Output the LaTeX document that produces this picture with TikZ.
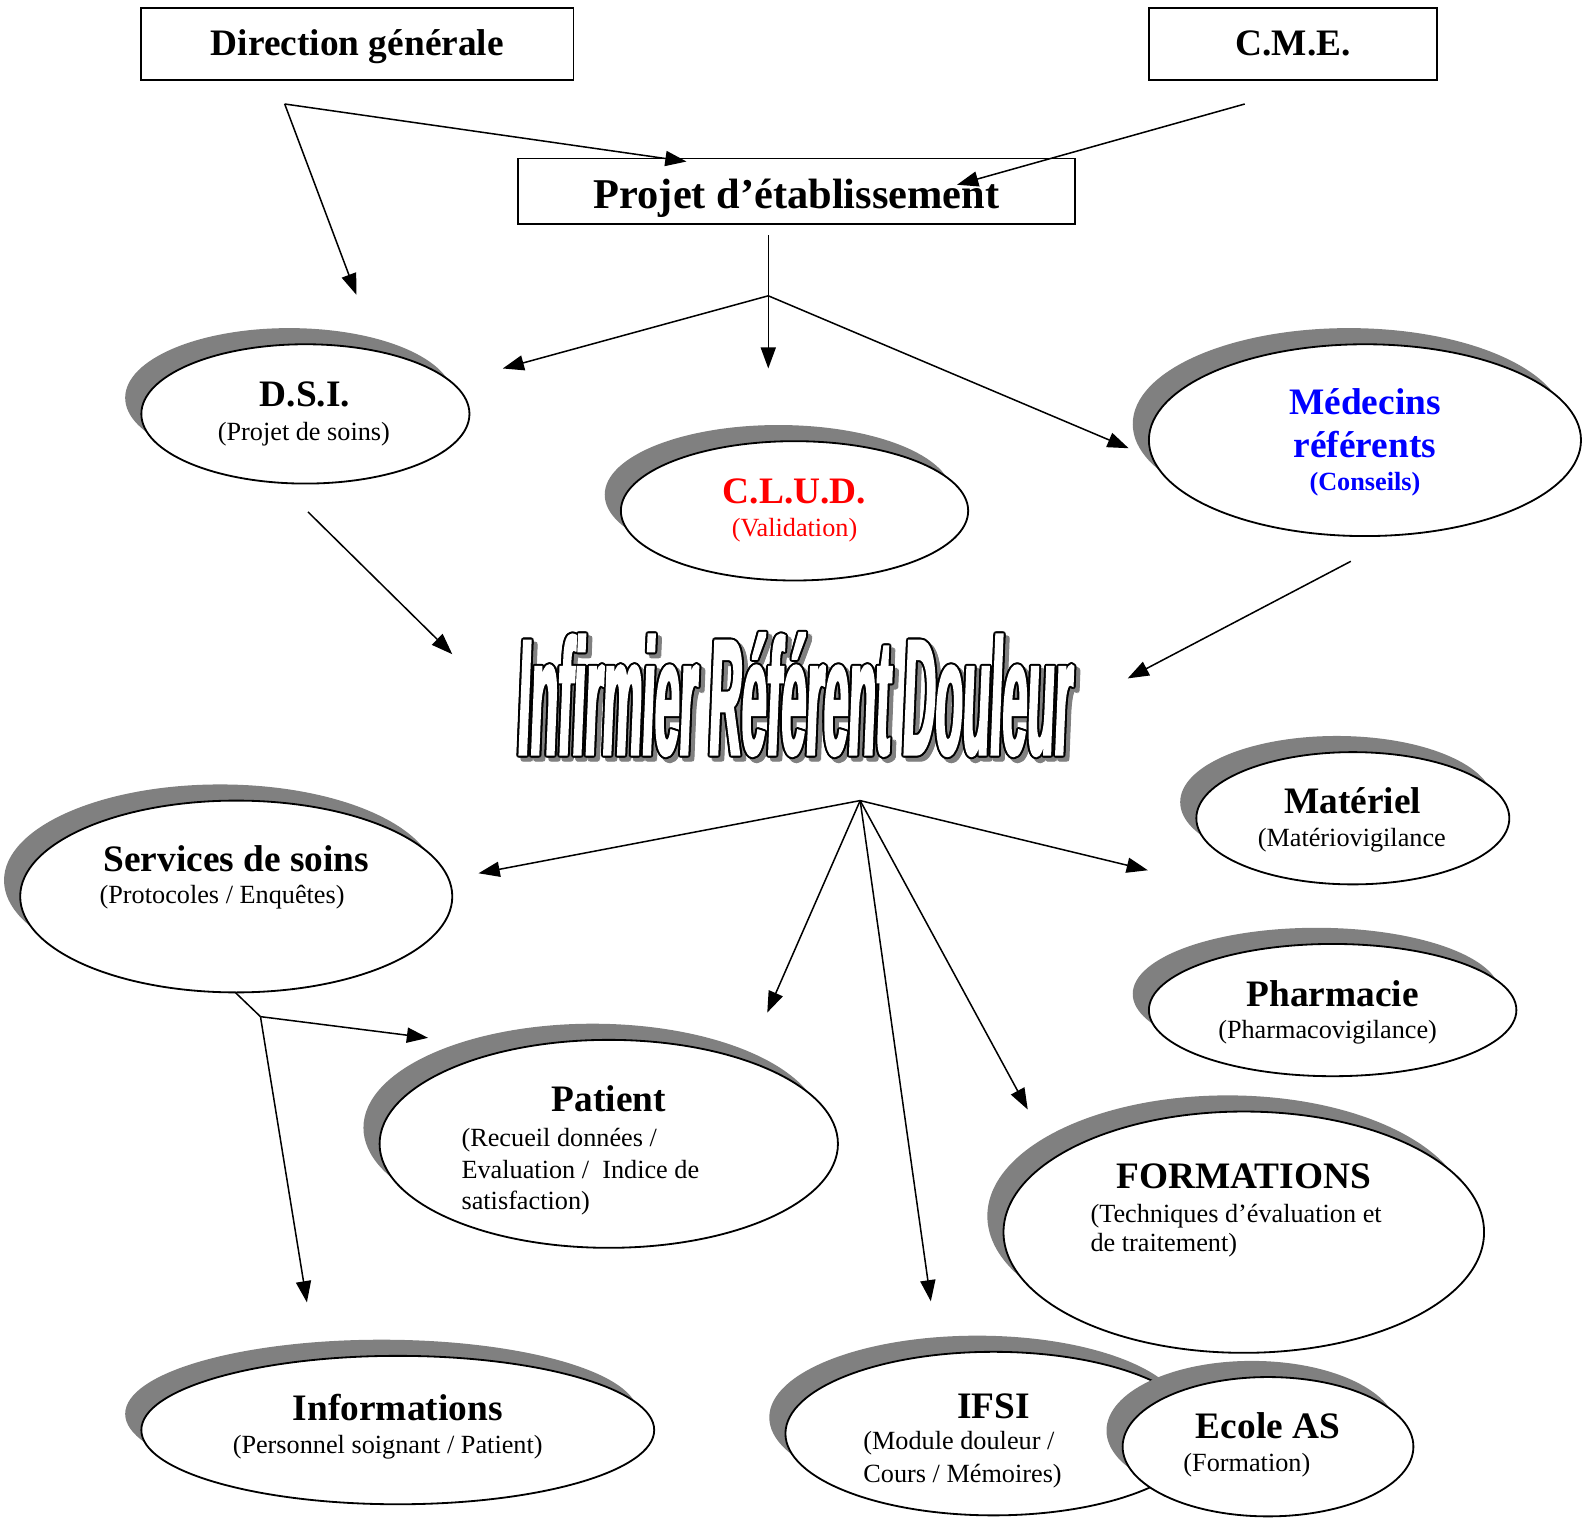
\documentclass[tikz,border=0pt]{standalone}
\usepackage{fontspec}
\setmainfont{Liberation Serif}
\newfontfamily\irdfont{Liberation Sans}[FakeStretch=0.27, FakeSlant=0.04, BoldFeatures={FakeBold=1.3}]
\usetikzlibrary{shapes.geometric,arrows.meta,calc}
\definecolor{shadowgray}{HTML}{808080}
\definecolor{cludred}{HTML}{FF0000}
\definecolor{medblue}{HTML}{0000FF}
\tikzset{
  shd/.style={ellipse, fill=shadowgray, draw=none, inner sep=0pt},
  ell/.style={ellipse, fill=white, draw=black, line width=1.8pt, inner sep=0pt},
  ttl/.style={font=\fontsize{37}{42}\selectfont\bfseries, anchor=base, inner sep=0pt},
  subt/.style={font=\fontsize{26}{31}\selectfont, anchor=base, inner sep=0pt},
  subtl/.style={subt, anchor=base west},
  boxn/.style={draw=black, line width=1.8pt, fill=white, inner sep=0pt},
  arr/.style={line width=1.5pt, -{Triangle[length=21pt,width=15pt]}},
  plainln/.style={line width=1.5pt},
  irdn/.style={inner sep=0pt, font=\irdfont\bfseries\fontsize{164}{170}\selectfont},
}
\newcommand\shadowellipse[5]{%
  \node[shd, minimum width=#4pt, minimum height=#5pt] (#1-sh) at ({#2-16},{#3-16}) {};
  \node[ell, minimum width=#4pt, minimum height=#5pt] (#1) at (#2,#3) {};}
\newcommand\irdtext{Infirmier Référent Douleur}
\begin{document}
\begin{tikzpicture}[x=1pt,y=-1pt]
\fill[white] (0,0) rectangle (1568,1503);
\useasboundingbox (0,0) rectangle (1568,1503);

% boxes
\node[boxn, minimum width=428pt, minimum height=71pt] (dg) at (354,43.5) {};
\node[ttl] (dg-t) at (354,55) {Direction générale};
\node[boxn, minimum width=285pt, minimum height=71pt] (cme) at (1280.5,43.5) {};
\node[ttl] (cme-t) at (1281,55) {C.M.E.};
\node[boxn, minimum width=552pt, minimum height=65pt] (pe) at (789,189.5) {};
\node[ttl, font=\fontsize{42}{48}\selectfont\bfseries] (pe-t) at (789,207) {Projet d’établissement};

% ellipses
\shadowellipse{dsi}{302.5}{410}{325}{138}
\node[ttl] (dsi-t) at (302,403) {D.S.I.};
\node[subt] (dsi-s) at (301,436) {(Projet de soins)};

\shadowellipse{clud}{787}{506}{344}{138}
\node[ttl, text=cludred] (clud-t) at (787,499) {C.L.U.D.};
\node[subt, text=cludred] (clud-s) at (787,531) {(Validation)};

\shadowellipse{med}{1352}{436}{428}{190}
\node[ttl, text=medblue] (med-t1) at (1352,411) {Médecins};
\node[ttl, text=medblue] (med-t2) at (1352,453) {référents};
\node[subt, text=medblue, font=\fontsize{26}{31}\selectfont\bfseries] (med-s) at (1352,486) {(Conseils)};

\shadowellipse{mat}{1340}{810.5}{310}{131}
\node[ttl] (mat-t) at (1340,806) {Matériel};
\node[subt] (mat-s) at (1339,838) {(Matériovigilance};

\shadowellipse{pha}{1320}{1000.5}{364}{131}
\node[ttl] (pha-t) at (1320,997) {Pharmacie};
\node[subt] (pha-s) at (1315,1029) {(Pharmacovigilance)};

\shadowellipse{ss}{234}{888}{428}{190}
\node[ttl] (ss-t) at (234,863) {Services de soins};
\node[subt] (ss-s) at (220,895) {(Protocoles / Enquêtes)};

\shadowellipse{pat}{603}{1133}{454}{206}
\node[ttl] (pat-t) at (603,1101) {Patient};
\node[subtl] (pat-s1) at (457,1136) {(Recueil données /};
\node[subtl] (pat-s2) at (457,1167) {Evaluation /\ \ Indice de};
\node[subtl] (pat-s3) at (457,1198) {satisfaction)};

\shadowellipse{form}{1232}{1220.5}{476}{239}
\node[ttl] (form-t) at (1232,1177) {FORMATIONS};
\node[subtl] (form-s1) at (1080,1211) {(Techniques d’évaluation et};
\node[subtl] (form-s2) at (1080,1240) {de traitement)};

\shadowellipse{info}{394}{1416.5}{508}{147}
\node[ttl] (info-t) at (394,1407) {Informations};
\node[subt] (info-s) at (384,1440) {(Personnel soignant / Patient)};

\shadowellipse{ifsi}{984}{1420}{412}{162}
\node[ttl] (ifsi-t) at (984,1405) {IFSI};
\node[subtl] (ifsi-s1) at (855,1436) {(Module douleur /};
\node[subtl] (ifsi-s2) at (855,1468) {Cours / Mémoires)};

\shadowellipse{eas}{1256}{1433}{288}{138}
\node[ttl] (eas-t) at (1256,1425) {Ecole AS};
\node[subtl] (eas-s) at (1172,1458) {(Formation)};

% central title
\begin{scope}[shift={(786,688)}]
  \foreach \a in {0,45,...,315} {
    \node[irdn, text=shadowgray] (ird-sh\a) at ($(4,4)+(\a:2)$) {\irdtext};
  }
  \foreach \a in {0,30,...,330} {
    \node[irdn, text=black] (ird-o\a) at (\a:2) {\irdtext};
  }
  \node[irdn, text=white] (ird) at (0,0) {\irdtext};
\end{scope}

% connector points
\coordinate (dgsplit) at (282,103);
\coordinate (pe-in1) at (680,160);
\coordinate (dsi-in) at (353,292);
\coordinate (cme-out) at (1233,103);
\coordinate (pe-in2) at (948,183);
\coordinate (pe-out) at (761,233);
\coordinate (pesplit) at (761,293);
\coordinate (dsi-in2) at (498,365);
\coordinate (clud-in) at (761,365);
\coordinate (med-in) at (1118,444);
\coordinate (dsi-out) at (305,507);
\coordinate (ird-in1) at (448,648);
\coordinate (med-out) at (1338,556);
\coordinate (ird-in2) at (1117,672);
\coordinate (irdsplit) at (852,793);
\coordinate (ss-in) at (474,865);
\coordinate (pat-in1) at (760,1003);
\coordinate (ifsi-in) at (922,1289);
\coordinate (form-in) at (1018,1099);
\coordinate (mat-in) at (1137,862);
\coordinate (ss-out) at (233,983);
\coordinate (sssplit) at (258,1007);
\coordinate (pat-in2) at (424,1028);
\coordinate (info-in) at (304,1290);

% connectors
\draw[arr] (dgsplit) -- (pe-in1);
\draw[arr] (dgsplit) -- (dsi-in);
\draw[arr] (cme-out) -- (pe-in2);
\draw[plainln] (pe-out) -- (pesplit);
\draw[arr] (pesplit) -- (dsi-in2);
\draw[arr] (pesplit) -- (clud-in);
\draw[arr] (pesplit) -- (med-in);
\draw[arr] (dsi-out) -- (ird-in1);
\draw[arr] (med-out) -- (ird-in2);
\draw[arr] (irdsplit) -- (ss-in);
\draw[arr] (irdsplit) -- (pat-in1);
\draw[arr] (irdsplit) -- (ifsi-in);
\draw[arr] (irdsplit) -- (form-in);
\draw[arr] (irdsplit) -- (mat-in);
\draw[plainln] (ss-out) -- (sssplit);
\draw[arr] (sssplit) -- (pat-in2);
\draw[arr] (sssplit) -- (info-in);
\end{tikzpicture}
\end{document}
